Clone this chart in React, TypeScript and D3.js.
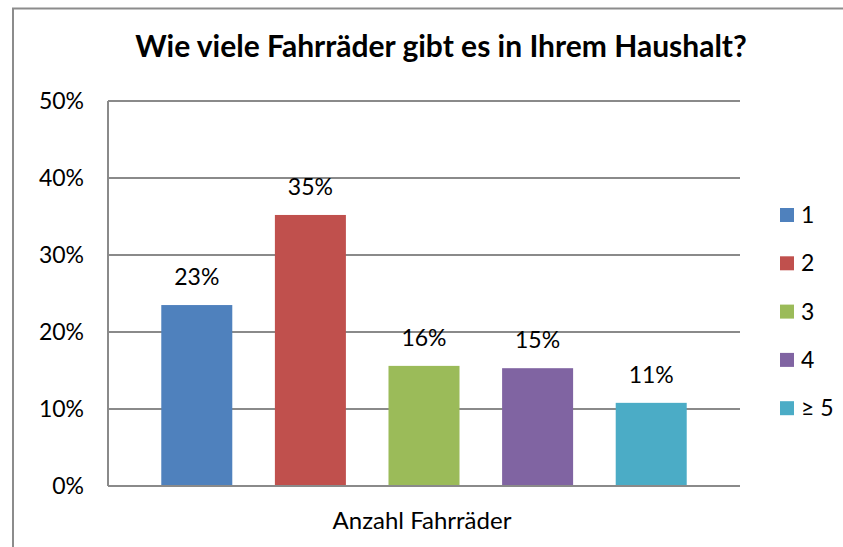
import React from "react";
import * as d3 from "d3";

const categories: string[] = ["1", "2", "3", "4", "≥ 5"];
const values: number[] = [0.235, 0.352, 0.156, 0.153, 0.108];
const valueLabels: string[] = ["23%", "35%", "16%", "15%", "11%"];
const colors: string[] = ["#4F81BD", "#C0504D", "#9BBB59", "#8064A2", "#4BACC6"];
const yTicks: number[] = [0, 0.1, 0.2, 0.3, 0.4, 0.5];
const title = "Wie viele Fahrräder gibt es in Ihrem Haushalt?";
const xTitle = "Anzahl Fahrräder";

const W = 843;
const H = 547;
const FONT = "Lato, 'Open Sans', sans-serif";

export default function App() {
  const left = 108;
  const right = 740;
  const top = 101;
  const bottom = 486;

  const y = d3.scaleLinear().domain([0, 0.5]).range([bottom, top]);
  const x = d3
    .scaleBand<string>()
    .domain(categories)
    .range([left, right])
    .paddingInner(0.375)
    .paddingOuter(0.469);

  const gridColor = "#8a8a8a";

  return (
    <svg
      width={W}
      height={H}
      style={{ position: "fixed", left: 0, top: 0, background: "#fff" }}
      fontFamily={FONT}
    >
      <rect x={0} y={0} width={W} height={H} fill="#fff" />
      <rect x={13} y={8.5} width={W + 20} height={H + 20} fill="none" stroke="#8c8c8c" strokeWidth={2} />
      <text x={441} y={57} textAnchor="middle" fontSize={30} fontWeight={700} fill="#000">
        {title}
      </text>
      {yTicks.map((t) => (
        <g key={t}>
          {t > 0 && (
            <line x1={left} x2={right} y1={y(t)} y2={y(t)} stroke={gridColor} strokeWidth={2} />
          )}
          <text x={84} y={y(t)} dy="0.35em" textAnchor="end" fontSize={23} fill="#000">
            {d3.format(".0%")(t)}
          </text>
        </g>
      ))}
      {categories.map((c, i) => (
        <g key={c}>
          <rect x={x(c)} y={y(values[i])} width={x.bandwidth()} height={bottom - y(values[i])} fill={colors[i]} />
          <text
            x={(x(c) as number) + x.bandwidth() / 2}
            y={y(values[i]) - 20}
            textAnchor="middle"
            fontSize={23}
            fill="#000"
          >
            {valueLabels[i]}
          </text>
        </g>
      ))}
      <line x1={left} x2={left} y1={top} y2={bottom} stroke={gridColor} strokeWidth={2} />
      <line x1={left} x2={right} y1={bottom} y2={bottom} stroke={gridColor} strokeWidth={2} />
      <text x={422} y={529} textAnchor="middle" fontSize={24} fill="#000">
        {xTitle}
      </text>
      {categories.map((c, i) => {
        const ly = 215 + i * 48.3;
        return (
          <g key={"lg" + c}>
            <rect x={780} y={ly - 7} width={14} height={14} fill={colors[i]} />
            <text x={801} y={ly} dy="0.35em" fontSize={23} fill="#000">
              {c}
            </text>
          </g>
        );
      })}
    </svg>
  );
}
